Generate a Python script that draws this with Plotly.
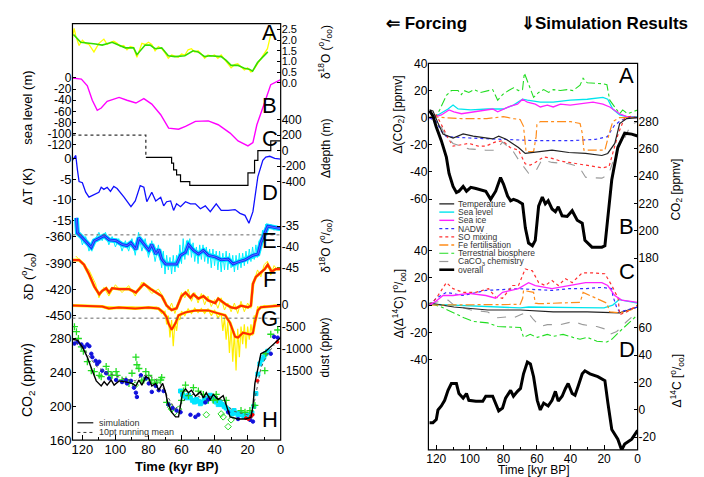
import plotly.graph_objects as go

W, H = 704, 477
FONT = "Liberation Sans, Arial, Helvetica, sans-serif"

# ======================= DATA (left panel: forcing) =======================
A_t = [125.4, 121, 112, 108, 102, 96, 94, 89, 87, 82, 79, 76, 72, 68, 64, 58, 53, 50, 46, 43, 39, 36, 33, 30, 26, 22, 19, 17, 14, 10, 7.8]
A_v = [2.27, 1.9, 1.82, 1.77, 1.9, 1.73, 1.64, 1.64, 1.32, 1.77, 1.77, 1.6, 1.64, 1.27, 1.23, 1.27, 1.5, 1.45, 1.23, 1.27, 1.23, 1.23, 1.05, 0.82, 0.82, 0.68, 0.64, 0.55, 0.95, 1.27, 1.45]
Ay_t = [126, 125, 124, 122, 120, 118, 116, 113, 110, 107, 105, 103, 101, 99, 97, 95, 93, 91, 89, 88,
        87, 86, 84, 82, 80, 78, 76, 74, 72, 70, 68, 66, 64, 62, 60, 58, 56, 54, 52, 50,
        48, 46, 44, 42, 40, 38, 36, 34, 32, 30, 28, 26, 24, 22, 20, 18, 16, 14, 12, 10, 8, 6.5, 5.5]
Ay_v = [2.1, 2.55, 2.2, 1.75, 2.0, 1.85, 1.8, 1.45, 1.85, 2.05, 1.8, 1.9, 1.95, 1.85, 1.7, 1.75, 1.55, 1.7, 1.65, 1.45,
        1.2, 1.4, 1.85, 1.8, 1.9, 1.8, 1.5, 1.7, 1.6, 1.4, 1.15, 1.3, 1.25, 1.2, 1.35, 1.3, 1.55, 1.6, 1.45, 1.5,
        1.35, 1.15, 1.3, 1.25, 1.3, 1.15, 1.3, 1.1, 0.95, 0.7, 0.85, 0.9, 0.75, 0.6, 0.7, 0.5, 0.65, 0.9, 1.1, 1.35, 1.6, 2.1, 2.5]
B_t = [126, 120.6, 117, 114, 111, 108.6, 105, 97.8, 93, 87.6, 82.8, 78, 72.6, 67.8, 61.8, 57.6, 51.6, 43.8, 37.8, 30.6, 25.8, 19.8, 16.8, 14.4, 9.6, 6, 0]
B_v = [0, -2, -14, -40, -58, -54, -42, -35, -40, -45, -37, -47, -66, -90, -92, -87, -78, -77, -84, -99, -113, -122, -116, -84, -43, -12, -3]
C_t = [126, 81.6, 66, 64.8, 63, 60.6, 55, 19.8, 15.8, 13.8, 6, 0]
C_v = [200, -87, -162, -250, -312, -400, -450, -287, -125, 0, 125, 125]
D_t = [126, 124, 123, 122, 120, 118, 116, 113, 110, 108.6, 107, 105, 103, 101, 99, 94.8, 90.6, 88, 85, 82.8,
       81, 78, 75.6, 72.6, 70.8, 69, 66.6, 64.8, 63, 60.6, 57.6, 54.6, 51.6, 48.6, 45.6, 42.6, 39, 36, 31.8, 27.6,
       24.6, 21.6, 19.2, 16.8, 14.4, 13.8, 10.8, 9, 6.6, 3.6, 0]
D_v = [-0.5, 0.7, -2.8, -5.6, -5.9, -8.2, -9.4, -8.7, -8.2, -7.0, -7.5, -7.0, -8.0, -6.8, -7.3, -9.4, -11.7, -10.3, -6.6, -7.0,
       -10.5, -8.2, -10.3, -9.4, -11.5, -10.5, -10.3, -12.6, -11, -11.7, -10.5, -11, -11, -12.2, -11.5, -12.9, -11, -12.6, -12.6, -12.4,
       -13.3, -13.8, -15.7, -12.9, -6.5, -4.4, -0.5, 0.3, 0.5, 0, -0.2]
E_t = [123.6, 123, 120, 117, 114.6, 112.8, 109.8, 106.8, 103.8, 99.6, 96, 93, 90.6, 87.6, 85.8, 82.8, 79.8, 78, 75.6, 73.8,
       72, 69.6, 66, 63, 60.6, 57.6, 55.8, 52.8, 49.8, 46.8, 43.8, 39.6, 36, 31.8, 28.8, 25.8, 21.6, 16.8, 13.8, 12,
       9.6, 7.8, 1.8, 0]
E_v = [-33, -36.6, -37.8, -39, -40.1, -38.5, -37.8, -37.3, -38.3, -38.5, -39.4, -39.7, -39, -40.6, -37.8, -39.4, -40.8, -39.4, -41.7, -40.6,
       -42.9, -44.1, -44.1, -44.1, -42, -41.3, -39.4, -40.8, -41.7, -40.8, -42, -42.4, -43.1, -42.9, -44.1, -43.6, -43.1, -42, -41.7, -39,
       -36.6, -35, -35.5, -35.6]
Ec_t = [122, 120, 118, 116, 114, 112, 110, 108, 106, 104, 102, 100, 98, 96, 94, 92, 90, 88, 86, 84,
        82, 80, 78, 76, 74, 72, 71, 70, 69, 68, 67, 66, 65, 64, 63, 62, 61, 60, 59, 58,
        57, 56, 55, 54, 53, 52, 51, 50, 49, 48, 47, 46, 45, 44, 43, 42, 41, 40, 39, 38,
        37, 36, 35, 34, 33, 32, 31, 30, 29, 28, 27, 26, 25, 24, 23, 22, 21, 20, 19, 18,
        17, 16, 15, 14, 13, 12, 11, 10, 9, 8, 6, 4, 2]
Ec_v = [-36, -39.5, -37.5, -41, -39, -38, -36.5, -38.5, -36.5, -39.5, -37.5, -40, -38, -41, -38.5, -41, -38, -42, -36.5, -41,
        -38, -42.5, -38.5, -43.5, -39.5, -45, -41, -46.5, -42, -45.5, -42.5, -46.5, -42, -46, -42, -45, -39.5, -44, -38, -43,
        -38.5, -42, -38, -42.5, -39, -43.5, -40, -44, -39.5, -43, -39.5, -43.5, -40, -44, -40.5, -45, -40.5, -44.5, -41, -45.5,
        -41, -46, -41.5, -45.5, -41, -45.5, -41.5, -45, -42, -46, -42, -45.5, -41.5, -45, -41.5, -44.5, -41, -44, -40.5, -43.5,
        -40, -43, -39.5, -42.5, -38.5, -40.5, -36, -38, -34.5, -36, -34.5, -36, -35]
F_t = [126, 122, 119, 116, 112.8, 109.8, 108, 105.6, 103.8, 102, 97.8, 91.8, 87.6, 82.8, 78.6, 75.6, 72, 69, 66, 63,
       60, 57.6, 54.6, 52.8, 49.8, 46.8, 43.8, 39.6, 37.8, 33.6, 30, 27, 24, 19.8, 18, 16.8, 15, 12.6, 9.6, 7.8, 5.4, 3, 0]
F_v = [-386.7, -386.7, -392, -403, -417, -426, -422, -419, -424, -419, -420, -420, -424, -414, -420, -424, -428, -439, -444, -442,
       -428, -424, -430, -426, -431, -428, -433, -436, -431, -437, -441, -442, -439, -441, -439, -414, -406, -402, -397, -392, -400, -397, -397]
Fy_t = [124, 120, 116, 112, 110, 107, 104, 100, 96, 92, 88, 84, 82, 78, 74, 70, 68, 66, 64, 62,
        60, 58, 56, 54, 52, 50, 48, 46, 44, 42, 40, 38, 36, 34, 32, 30, 28, 26, 24, 22,
        20, 18, 16, 14, 12, 10, 8, 6, 4, 2]
Fy_v = [-382, -390, -398, -414, -430, -418, -428, -415, -424, -416, -428, -412, -416, -425, -420, -432, -444, -436, -448, -436,
        -424, -430, -420, -434, -424, -436, -425, -438, -428, -440, -432, -442, -430, -444, -436, -446, -436, -448, -434, -446,
        -436, -442, -410, -398, -406, -392, -388, -404, -393, -398]
G_t = [126, 108, 104, 98, 88, 80, 74, 71, 69, 68, 66, 63.6, 61.8, 57.6, 51.6, 43.8, 37.8, 33.6, 30.6, 27.6,
       25.8, 22.8, 18.6, 16.8, 15.6, 13.8, 12, 0]
G_v = [-22, -44, -88, -66, -88, -66, -88, -177, -287, -420, -574, -420, -243, -177, -132, -132, -199, -243, -420, -730,
       -750, -640, -680, -650, -400, -130, -60, -22]
Gy_t = [126, 110, 100, 90, 80, 75, 72, 70, 69, 68, 67, 66, 65, 64, 63, 62, 61, 60, 58, 56,
        54, 52, 50, 48, 46, 44, 42, 40, 38, 36, 35, 34, 33, 32, 31, 30, 29, 28, 27, 26,
        25, 24, 23, 22, 21, 20, 19, 18, 17, 16, 15, 14, 12, 10, 7, 4, 0]
Gy_v = [-10, -30, -60, -50, -70, -60, -200, -150, -450, -250, -750, -350, -950, -400, -600, -300, -350, -150, -250, -100,
        -200, -80, -180, -90, -200, -100, -250, -120, -300, -200, -600, -300, -800, -400, -1100, -500, -1300, -600, -1500, -550,
        -1200, -500, -900, -450, -1000, -500, -800, -450, -700, -250, -350, -50, -80, -20, -60, -10, -30]
H_t = [126, 123, 120, 117, 114, 111.6, 108.6, 106.8, 105, 102.6, 100.8, 97.8, 93, 90, 87.6, 85.8, 84, 81.6, 79.8, 78,
       75.6, 73.8, 71.4, 69.6, 68.4, 66, 63.6, 61.8, 60.6, 59.4, 57.6, 55.8, 54, 51.6, 48.6, 46.8, 45, 42.6, 40.8, 37.8,
       34.8, 33, 30.6, 25.8, 21, 18, 16.8, 15.6, 13.8, 12, 9, 6, 0]
H_v = [279, 278, 270, 258, 242, 230, 224, 229, 225, 231, 225, 230, 228.5, 227, 224, 231, 225, 235, 233, 224,
       227, 219, 227, 216, 204.5, 193, 187.5, 187.5, 201, 216, 220.6, 216, 219, 212, 217, 210, 216, 208, 214, 208,
       212.6, 201, 187.5, 185, 185, 187, 200, 227, 245, 262, 265, 270, 281]
Hm_t = [124, 118, 112, 106, 100, 94, 88, 84, 80, 76, 72, 68, 64, 60, 56, 52, 48, 44, 40, 36, 32, 28, 24, 20, 17, 15, 12, 8, 4]
Hm_v = [275, 265, 248, 240, 236, 232, 230, 236, 237, 232, 225, 210, 197, 203, 214, 214, 210, 212, 210, 208, 200, 194, 192, 190, 194, 215, 245, 262, 272]
Blue_t = [124.8, 123, 120.6, 118.8, 117, 115.8, 114.6, 114, 112, 111, 109.8, 108, 105.6, 103.8, 99.6, 96, 93.6, 93, 90.6, 88.8,
          87.6, 87, 84.6, 81.6, 79.8, 78, 75.6, 73.8, 70.8, 67.8, 65.4, 63, 60.6, 54.6, 51.6, 49.8, 45.6, 43.8, 31.8, 25.8,
          18.6, 16.8, 4, 6, 1.8]
Blue_v = [274, 275.6, 273, 270, 273, 271, 262, 258, 253.7, 250, 252.6, 242, 239, 233, 231, 228.6, 231, 227, 230, 222,
          216, 211, 236.6, 233, 227, 217, 224, 219, 218, 202, 198, 195, 193, 190, 187.5, 190, 204.6, 208, 193, 185,
          184, 182, 282, 262, 281]
Green_t = [124.8, 123.6, 122.4, 120.6, 119.4, 117, 114.6, 112.8, 109.8, 108.6, 105.6, 104.4, 102.6, 102, 99.6, 99, 96, 93.6, 91.8, 90,
           87.6, 87, 85.8, 84, 82.8, 81.6, 79.8, 78, 76.2, 75, 72.6, 72, 69, 60, 58.8, 57.6, 55.8, 52.8, 49.8, 46.8,
           43.8, 40.8, 39, 38.4, 33, 24, 21.6, 18.6, 15.6, 9.6, 9, 6, 1.8]
Green_v = [294, 288, 280, 270, 265, 252.6, 242, 241, 236.6, 235, 247, 241, 236.6, 236.6, 241, 236.6, 231, 231, 227, 239,
           258, 249, 244.6, 230, 231, 241, 236.6, 231, 227, 228.6, 231, 234, 204.6, 207, 218, 225, 212.6, 222, 218, 214,
           207, 207, 214, 208, 207, 195, 193, 195, 201, 242, 262, 285, 290]
Gd_t = [88, 66.6, 66, 64.2, 61.8, 45, 36, 34.8, 31.8, 30]
Gd_v = [225, 199, 196.6, 193, 196.6, 190, 191, 187.5, 176, 184]
Cy_t = [60.6, 59.4, 58.2, 57, 55.8, 54.6, 53.4, 52.2, 51, 49.8, 48.6, 47.4, 46.2, 45, 43.8, 42.6, 41.4, 40.2, 39, 37.8,
        36.6, 35.4, 34.2, 33, 31.8, 30.6, 29.4, 28.2, 27, 25.8, 24.6, 23.4, 22.2, 21, 19.8, 18.6, 17.4, 16.2, 15, 13.8,
        12.6, 11.4, 10.2, 9, 7.8]
Cy_v = [218, 214, 212, 210, 213, 210, 207, 205, 208, 206, 203, 205, 209, 206, 210, 213, 210, 207, 205, 202,
        205, 202, 200, 198, 196, 193, 191, 195, 192, 190, 192, 190, 188, 189, 190, 188, 192, 200, 215, 238,
        250, 255, 258, 262, 265]
Rd_t = [21, 19.5, 18, 17, 14, 2]
Rd_v = [186, 185, 188, 190, 230, 276]

# ======================= DATA (right panel: simulation) =======================
TerA_t = [124, 120, 118, 114, 111, 107, 105, 103.5, 100.6, 97.6, 93.5, 89.3, 86.4, 83.4, 80.5, 76.9, 74, 71, 68.6, 67.5,
          65.7, 62, 59, 56, 53, 50.3, 46, 42, 38.5, 34.3, 32.5, 30, 20.7, 18.3, 16.6, 14.8, 10.7, 8.9, 6, 3, 0]
TerA_v = [-0.7, 1.4, 5.7, 16.4, 20, 20, 17, 20, 18.6, 20.7, 18.6, 20, 20.7, 12.9, 17, 20, 22, 20, 20.7, 32.9,
          27, 15, 18.6, 20.7, 18.6, 20.7, 20, 20.7, 20, 24, 29, 25.7, 25, 24.3, 12.9, 10, 2.9, 5.7, 2.9, 4.3, 5.7]
SeaA_t = [124, 119, 113, 110, 107, 99.4, 89.3, 80, 74, 68.6, 65.7, 58, 50.3, 40.2, 30, 20.7, 17.8, 14.8, 10.7, 6.5, 0]
SeaA_v = [-0.7, 2, 6.4, 9.3, 6.4, 5.7, 6.4, 6.4, 9.3, 13.6, 12.9, 11.4, 11.4, 12.9, 13.6, 15, 13.6, 6.4, 2, 0.7, 0.7]
IceA_t = [124, 117, 112.4, 109.5, 105, 97.6, 91.7, 86.4, 83.4, 80, 75.7, 71.6, 68.6, 65.7, 61, 58, 53.8, 50.3, 46, 40.2,
          34.3, 26.6, 20.7, 16.6, 10.7, 6.5, 0]
IceA_v = [-0.7, 2, 5.7, 4.3, 2.9, 4.3, 5.7, 6.4, 4.3, 6.4, 8.6, 10, 13.6, 11.4, 10, 7.9, 9.3, 7.9, 10, 9.3,
          10, 11.4, 10, 7.9, 2.9, 0.7, 0]
NadA_t = [124, 120, 117, 114, 100, 80, 60, 40, 25, 18, 14, 10, 5, 0]
NadA_v = [0, -3, -10, -14, -15, -16, -17, -17, -16, -14, -6, -2, 0, 0]
SoA_t = [124, 120, 117, 113, 110, 105, 100.6, 95, 90.5, 85, 80.5, 76, 71, 67, 64, 61, 56, 51, 46, 41,
         36, 31, 26, 21, 17, 15.4, 13, 11.6, 9, 7.7, 4, 0]
SoA_v = [0, 2, -5, -15, -21, -20, -19, -21, -21, -18, -17, -22, -24, -34, -35, -33, -29, -30, -32, -33,
         -34, -35, -36, -37, -36, -29, -20, -12, -4, 0, 1, 0]
FeA_t = [124, 117, 105, 90, 80, 74, 70, 68, 67, 66.5, 62, 60.5, 60, 58, 50, 40, 34.3, 33, 32, 19.5, 17, 14.8, 10.7, 0]
FeA_v = [0.7, 0, -0.7, -0.7, 0.7, -0.7, -1.4, -6.4, -17, -25, -25, -14, -5, -2.9, -2.9, -2.9, -4.3, -11.4, -24, -24, -12, -2.9, 0, 0]
CaA_t = [124, 122, 118, 114, 110, 100.6, 90.5, 84.6, 80.5, 74.6, 71, 65, 61, 57, 51, 41, 35, 31, 21.3, 17.4, 11.6, 7.7, 4, 0]
CaA_v = [0, 2, -5, -14, -19, -23, -24, -24, -18, -24, -31, -41, -40, -31, -33, -34, -36, -44, -44.6, -42, -22, -15, -5, -3]
TmA_t = [124, 122, 119, 116, 110, 104, 98, 90.5, 86.4, 82.8, 78.7, 74.6, 71, 67, 61, 51, 41, 31, 21.3, 17.8, 13.6, 10.7, 6.5, 0]
TmA_v = [5.7, 5, -4, -12, -15, -12, -13.6, -15, -15.7, -13.6, -15.7, -19, -22, -26.4, -25.7, -24, -25.7, -26.4, -27.9, -26.4, -19, -4.3, -0.7, 0]
Ov_t = [124, 122, 120, 117, 114, 112.4, 110, 108, 106.5, 104, 102, 99.4, 96.4, 92.3, 90.5, 87.6, 84.6, 81.7, 79.9, 77.5,
        75.7, 74, 71.6, 68.6, 66.9, 65, 62.7, 61, 59, 56.8, 55, 53.3, 51, 49, 47.3, 45, 42, 39, 36, 33,
        31.4, 27.2, 21.3, 19.5, 17.7, 15.4, 11.8, 7.7, 3.5, 0]
Ov_v = [288, 284, 276, 266, 254, 242, 232.5, 228, 229, 232.5, 229, 231.8, 231, 230, 229, 223, 229, 239, 234, 225.4,
        222, 223, 222, 219.7, 202, 191, 189, 193, 218, 224.7, 219.7, 222, 216, 214, 217.6, 211, 210.5, 214.7, 207.7, 205.5,
        193, 188, 188, 189, 211, 237.4, 261, 271.5, 270.8, 269.4]
TerC_t = [124, 117, 109.5, 103.5, 97.6, 89.3, 83.4, 74, 69.8, 68, 64, 59.8, 53.8, 50.3, 44.4, 38.5, 34.3, 30, 24.3, 18.3, 15.4, 10.7, 6.5, 0]
TerC_v = [1.4, -1.4, -5.7, -9.3, -12, -13, -15.7, -16.4, -16.4, -23.6, -21.4, -23.6, -21.4, -22.9, -21.4, -23.6, -25, -23.6, -26.4, -27, -25, -19.3, -14.3, -7.1]
CaC_t = [124, 113, 109.5, 99.4, 89.3, 83.4, 77.5, 74, 69.8, 65.7, 62, 58, 53.8, 46, 38.5, 32.5, 24.3, 18.3, 16.6, 12.4, 6.5, 0]
CaC_v = [1.4, 3.6, 0, -3.6, -5, -9.3, -8.6, -9.3, -7.1, -5, -10.7, -15.7, -14.3, -14.3, -12, -14.3, -15.7, -17.9, -21.4, -19.3, -12, -5]
TmC_t = [124, 109.5, 89.3, 69.8, 50.3, 30, 10.7, 0]
TmC_v = [1.4, -1.4, -3.6, -3.6, -5, -5, -5.7, -1.4]
SeaC_t = [124, 109.5, 89.3, 69.8, 65, 50, 35, 20, 14.8, 11, 6, 0]
SeaC_v = [0.7, 0, -0.7, -2.1, -1.4, -1.4, -1.8, -2.1, 0, 4, 3, 1.4]
IceC_t = [124, 120, 116, 110, 100.6, 90.5, 84.6, 80.5, 71, 65, 61, 51, 41, 31, 21.3, 17.8, 13.6, 9.5, 0]
IceC_v = [0, 3, 7, 7, 8.6, 7, 5, 9.3, 12, 16.4, 14.3, 12, 14.3, 16.4, 16.4, 14.3, 7, 3.6, 2]
SoC_t = [124, 120, 114, 110, 104, 96.4, 88.8, 84.6, 80.5, 74.6, 71, 67, 62.7, 59, 55, 51, 47.3, 43, 39, 33,
         27, 19.5, 15.4, 11.6, 10.7, 6.5, 0]
SoC_v = [0, 5, 16.4, 12, 9.3, 9.3, 12, 5.7, 5, 14.3, 14.3, 26.4, 25, 16.4, 14.3, 17.9, 14.3, 19.3, 16.4, 23.6,
         23.6, 22.9, 14.3, 5, -7, -5, 0]
NadC_t = [124, 120, 114, 104, 90.5, 71, 51, 41, 31, 21.3, 15.4, 14.8, 12.4, 10.7, 0]
NadC_v = [0, 5, 9.3, 7, 10.7, 12, 10.7, 12, 12, 12.9, 12, 7, -2.1, -5, -1.4]
FeC_t = [124, 70, 68.5, 68, 62, 61, 59, 34.3, 33, 32.5, 18.3, 16.6, 10.7, 4, 0]
FeC_v = [0, 0.5, 5, 10.7, 9.3, 1.4, 1, 2, 7, 9.3, 1.4, -5, -5.7, -3.6, 0]
D14_t = [124, 122, 120, 119, 117, 115, 113, 111, 108, 106.5, 104, 102, 100.6, 96.4, 92.3, 90.5, 86.4, 84.6, 82.8, 80.5,
         78.7, 75.7, 74, 71.6, 69.8, 68, 65.7, 63.9, 62, 59.8, 58, 56, 53.3, 51, 49, 47.3, 45, 43, 41.4, 39,
         37.3, 35.5, 33, 31.4, 28.4, 23.7, 19.5, 17.7, 15.4, 11.8, 9.5, 7.7, 3.5, 0]
D14_v = [-9.3, -9.3, -7, 0, 2.9, 7, 14.3, 19.3, 19.3, 12, 8.6, 12, 7, 6.4, 6.4, 10, 10, 5, -0.7, 1.4,
         8.6, 14.3, 10, 13.6, 15.7, 26.4, 35, 33.6, 24.3, 7, 0, 5, 2.9, 7, 13.6, 6.4, 10, 15.7, 19.3, 12,
         10.7, 17.1, 26.4, 28.6, 26.4, 24.3, 21.4, 5, -14.3, -21.4, -29.3, -25, -21.4, -15]

X_TICKS = [120, 100, 80, 60, 40, 20, 0]
LEGEND_RIGHT = ["Temperature", "Sea level", "Sea ice", "NADW", "SO mixing", "Fe fertilisation",
                "Terrestrial biosphere", "CaCO<sub>3</sub> chemistry", "overall"]
LEGEND_LEFT = ["simulation", "10pt running mean"]


def fy(p):
    return 1 - p / H


def fx(p):
    return p / W


fig = go.Figure()


def line(t, v, xa, ya, color, width=1.0, dash=None, shape="linear"):
    fig.add_trace(go.Scatter(x=t, y=v, xaxis=xa, yaxis=ya, mode="lines",
                             line=dict(color=color, width=width, dash=dash, shape=shape),
                             hoverinfo="skip", showlegend=False))


def pts(t, v, ya, symbol, color, size, lw=1):
    fig.add_trace(go.Scatter(x=t, y=v, xaxis="x", yaxis=ya, mode="markers",
                             marker=dict(symbol=symbol, color=color, size=size,
                                         line=dict(color=color, width=lw)),
                             hoverinfo="skip", showlegend=False))


def yax(ptop, pbot, cal, side, ticks, fmt=None, anchor="x", size=13):
    (p1, v1), (p2, v2) = cal
    k = (v2 - v1) / (p2 - p1)
    vt = v1 + (ptop - p1) * k
    vb = v1 + (pbot - p1) * k
    txt = [(fmt.format(v) if fmt else f"{v:g}") for v in ticks]
    return dict(domain=[fy(pbot), fy(ptop)], range=[vb, vt], side=side, anchor=anchor,
                tickmode="array", tickvals=ticks, ticktext=txt, ticks="inside", ticklen=4,
                tickcolor="black", showgrid=False, zeroline=False, showline=False,
                tickfont=dict(size=size, color="black", family=FONT))


def xax(p0, p1, rng, anchor, size, labels=True, overlay=None, side="bottom"):
    d = dict(range=rng, anchor=anchor, side=side, tickmode="array", tickvals=X_TICKS,
             ticktext=[str(v) for v in X_TICKS], showticklabels=labels,
             ticks="inside", ticklen=5, tickcolor="black", showgrid=False, zeroline=False,
             showline=False, tickfont=dict(size=size, color="black", family=FONT),
             minor=dict(tickmode="linear", tick0=0, dtick=10, ticks="inside", ticklen=3,
                        tickcolor="black", showgrid=False))
    if overlay:
        d["overlaying"] = overlay
    else:
        d["domain"] = [fx(p0), fx(p1)]
    return d


# left panel traces
line(Ay_t, Ay_v, "x", "y", "#ffff00", 1.3)
line(A_t, A_v, "x", "y", "#33dd00", 1.6)
line(B_t, B_v, "x", "y2", "#ff00ff", 1.4)
line(C_t[:2], C_v[:2], "x", "y3", "#333333", 1.3, "dot", "hv")
line(C_t[1:], C_v[1:], "x", "y3", "black", 1.2, None, "hv")
line(D_t, D_v, "x", "y4", "#1010ff", 1.3)
line(Ec_t, Ec_v, "x", "y5", "#00eeff", 1.0)
line(E_t, E_v, "x", "y5", "#00eeff", 5)
line(E_t, E_v, "x", "y5", "#1030ff", 2.8)
line(E_t, E_v, "x", "y5", "#7090ff", 0.7)
line(Fy_t, Fy_v, "x", "y6", "#ffee00", 1.0)
line(F_t, F_v, "x", "y6", "#ffee00", 3)
line(F_t, F_v, "x", "y6", "#ff2a00", 2.2)
line(Gy_t, Gy_v, "x", "y7", "#ffee00", 1.2)
line(G_t, G_v, "x", "y7", "#ffee00", 3)
line(G_t, G_v, "x", "y7", "#ff2a00", 2.0)
pts(Cy_t, Cy_v, "y8", "square", "#00e5ff", 4)
pts(Green_t, Green_v, "y8", "cross-thin", "#22dd22", 5, 1.3)
pts(Gd_t, Gd_v, "y8", "diamond-open", "#22dd22", 5, 1)
pts(Blue_t, Blue_v, "y8", "circle", "#1010dd", 3.5)
pts(Rd_t, Rd_v, "y8", "circle", "#ff0000", 3)
line(Hm_t, Hm_v, "x", "y8", "#555555", 1, "dot")
line(H_t, H_v, "x", "y8", "black", 1.4)

# right panel traces
line(TerA_t, TerA_v, "x2", "y9", "#22dd22", 1.1, "dashdot")
line(SeaA_t, SeaA_v, "x2", "y9", "#00e5ee", 1.3)
line(IceA_t, IceA_v, "x2", "y9", "#ff22ff", 1.3)
line(NadA_t, NadA_v, "x2", "y9", "#3030ff", 1.2, "dot")
line(SoA_t, SoA_v, "x2", "y9", "#ff3030", 1.2, "dot")
line(FeA_t, FeA_v, "x2", "y9", "#ff8c1a", 1.2, "dashdot")
line(CaA_t, CaA_v, "x2", "y9", "#999999", 1.1, "dash")
line(TmA_t, TmA_v, "x2", "y9", "#222222", 1.2)
line(Ov_t, Ov_v, "x2", "y10", "black", 3)
line(TerC_t, TerC_v, "x2", "y11", "#22dd22", 1.1, "dashdot")
line(CaC_t, CaC_v, "x2", "y11", "#999999", 1.1, "dash")
line(SeaC_t, SeaC_v, "x2", "y11", "#00e5ee", 1.3)
line(TmC_t, TmC_v, "x2", "y11", "#222222", 1.2)
line(FeC_t, FeC_v, "x2", "y11", "#ff8c1a", 1.2, "dashdot")
line(NadC_t, NadC_v, "x2", "y11", "#3030ff", 1.2, "dot")
line(SoC_t, SoC_v, "x2", "y11", "#ff3030", 1.2, "dot")
line(IceC_t, IceC_v, "x2", "y11", "#ff22ff", 1.3)
line(D14_t, D14_v, "x2", "y12", "black", 3)

lay = dict(
    width=W, height=H, margin=dict(l=0, r=0, t=0, b=0),
    paper_bgcolor="white", plot_bgcolor="rgba(0,0,0,0)", showlegend=False,
    font=dict(family=FONT, color="black"),
    xaxis=xax(63, 273, [126, 0], "y8", 13),
    xaxis2=xax(422, 633, [124.7, 0], "y12", 12),
    xaxis3=xax(0, 0, [126, 0], "y", 13, labels=False, overlay="x", side="top"),
    xaxis4=xax(0, 0, [124.7, 0], "y9", 12, labels=False, overlay="x2", side="top"),
    yaxis=yax(9, 75, [(15, 2.5), (70, 0.0)], "right", [0, 0.5, 1, 1.5, 2, 2.5], "{:.1f}", size=11),
    yaxis2=yax(58, 140, [(65, 0), (134, -120)], "left", [0, -20, -40, -60, -80, -100, -120], size=12),
    yaxis3=yax(100, 190, [(108, 400), (172, -400)], "right", [400, 200, 0, -200, -400], size=12),
    yaxis4=yax(140, 225, [(148, 0), (212, -15)], "left", [0, -5, -10, -15]),
    yaxis5=yax(195, 280, [(218, -35), (261, -45)], "right", [-35, -40, -45], size=12),
    yaxis6=yax(215, 330, [(229, -360), (310, -450)], "left", [-360, -390, -420, -450]),
    yaxis7=yax(280, 400, [(299, 0), (367, -1500)], "right", [0, -500, -1000, -1500], size=12),
    yaxis8=yax(305, 439, [(334, 280), (439, 160)], "left", [160, 200, 240, 280]),
    yaxis9=yax(50, 200, [(50, 40), (190, -60)], "left", [40, 20, 0, -20, -40, -60], anchor="x2", size=12),
    yaxis10=yax(50, 262, [(110, 280), (251, 180)], "right", [180, 200, 220, 240, 260, 280], anchor="x2", size=12),
    yaxis11=yax(235, 372, [(243, 40), (356, -40)], "left", [40, 20, 0, -20, -40], anchor="x2", size=12),
    yaxis12=yax(305, 449, [(323, 60), (436, -20)], "right", [60, 40, 20, 0, -20], anchor="x2", size=12),
)
fig.update_layout(**lay)

shapes = []
for x0, x1, y0, y1 in [(63, 273, 9, 439), (422, 633, 50, 449)]:
    shapes.append(dict(type="rect", xref="paper", yref="paper", x0=fx(x0), x1=fx(x1),
                       y0=fy(y1), y1=fy(y0), line=dict(color="black", width=1.2), layer="above"))
for yy in (227, 313):
    shapes.append(dict(type="line", xref="paper", yref="paper", x0=fx(63), x1=fx(273),
                       y0=fy(yy), y1=fy(yy), line=dict(color="#666666", width=1, dash="dot")))


def legline(x0, x1, y, color, width, dash=None):
    shapes.append(dict(type="line", xref="paper", yref="paper", x0=fx(x0), x1=fx(x1),
                       y0=fy(y), y1=fy(y), line=dict(color=color, width=width, dash=dash)))


legline(68, 84, 421, "#333333", 1.4)
legline(68, 84, 431, "#333333", 1, "dot")
r_styles = [("#333333", 1.4, None), ("#00e5ee", 1.4, None), ("#ff22ff", 1.4, None),
            ("#3030ff", 1.2, "dot"), ("#ff3030", 1.2, "dot"), ("#ff8c1a", 1.4, "dashdot"),
            ("#22dd22", 1.2, "dashdot"), ("#999999", 1.2, "dash"), ("black", 2.6, None)]
r_y = [195, 203.5, 212, 220.5, 229, 237.5, 246, 254.5, 263]
for (c, w, d), yy in zip(r_styles, r_y):
    legline(433, 448, yy, c, w, d)
fig.update_layout(shapes=shapes)


def ann(text, x, y, size, xanchor="center", yanchor="middle", angle=0, color="black"):
    fig.add_annotation(text=text, x=fx(x), y=fy(y), xref="paper", yref="paper", showarrow=False,
                       xanchor=xanchor, yanchor=yanchor, textangle=angle,
                       font=dict(size=size, color=color, family=FONT))


for lab, yy in zip(LEGEND_LEFT, [421, 431]):
    ann(lab, 88, yy, 9, xanchor="left", color="#333333")
for lab, yy in zip(LEGEND_RIGHT, r_y):
    ann(lab, 450, yy, 8.5, xanchor="left", color="#333333")

for lab, yy in zip("ABCDEFGH", [18, 93, 128, 183, 233, 273, 313, 418]):
    ann(lab, 262, yy, 22)
for lab, yy in zip("ABCD", [62, 218, 265, 345]):
    ann(lab, 622, yy, 22)

ann("<b>\u21d0 Forcing</b>", 377, 9, 17, xanchor="left")
ann("<b>\u21d3Simulation Results</b>", 513, 9, 17, xanchor="left")

ann("sea level (m)", 18, 96, 13, angle=-90)
ann("\u0394T (K)", 18, 177, 13, angle=-90)
ann("\u03b4D (<sup>o</sup>/<sub>oo</sub>)", 18, 270, 13, angle=-90)
ann("CO<sub>2</sub> (ppmv)", 18, 377, 14, angle=-90)
ann("\u03b4<sup>18</sup>O (<sup>o</sup>/<sub>oo</sub>)", 318, 38, 12, angle=-90)
ann("\u0394depth (m)", 318, 138, 12, angle=-90)
ann("\u03b4<sup>18</sup>O (<sup>o</sup>/<sub>oo</sub>)", 318, 238, 12, angle=-90)
ann("dust (ppbv)", 318, 343, 12, angle=-90)
ann("<b>Time (kyr BP)</b>", 168, 466, 13)

ann("\u0394(CO<sub>2</sub>) [ppmv]", 392, 103, 12, angle=-90)
ann("\u0394(\u0394<sup>14</sup>C) [<sup>o</sup>/<sub>oo</sub>]", 392, 298, 12, angle=-90)
ann("CO<sub>2</sub> [ppmv]", 673, 180, 12, angle=-90)
ann("\u0394<sup>14</sup>C [<sup>o</sup>/<sub>oo</sub>]", 673, 378, 12, angle=-90)
ann("Time [kyr BP]", 528, 470, 12)

fig.write_html("out.html")
